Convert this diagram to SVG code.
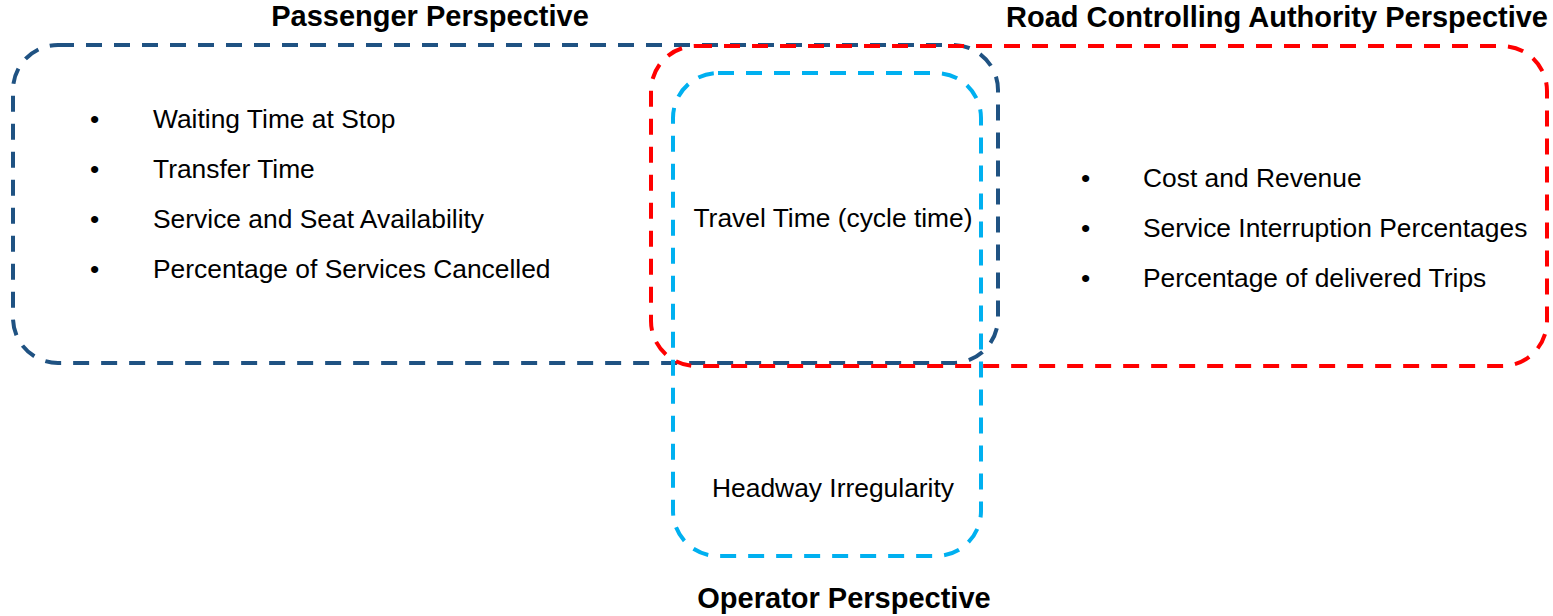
<svg xmlns="http://www.w3.org/2000/svg" width="1553" height="616" viewBox="0 0 1553 616">
<style>
.box{fill:none;stroke-width:4;stroke-dasharray:16 12;}
.t{font-family:"Liberation Sans",Arial,sans-serif;font-size:26.4px;fill:#000;}
.h{font-family:"Liberation Sans",Arial,sans-serif;font-size:29px;font-weight:bold;fill:#000;}
</style>
<rect width="1553" height="616" fill="#fff"/>
<g id="passenger">
<rect class="box" x="13" y="45" width="985" height="318" rx="45" ry="45" stroke="#1F5282"/>
<text class="h" x="430" y="26" text-anchor="middle">Passenger Perspective</text>
<text class="t" x="90" y="128">•</text><text class="t" x="153" y="128">Waiting Time at Stop</text>
<text class="t" x="90" y="178">•</text><text class="t" x="153" y="178">Transfer Time</text>
<text class="t" x="90" y="228">•</text><text class="t" x="153" y="228">Service and Seat Availability</text>
<text class="t" x="90" y="278">•</text><text class="t" x="153" y="278">Percentage of Services Cancelled</text>
</g>
<g id="authority">
<rect class="box" x="651" y="46" width="896" height="320" rx="45" ry="45" stroke="#FF0000"/>
<text class="h" x="1548" y="27" text-anchor="end">Road Controlling Authority Perspective</text>
<text class="t" x="1081" y="187">•</text><text class="t" x="1143" y="187">Cost and Revenue</text>
<text class="t" x="1081" y="237">•</text><text class="t" x="1143" y="237">Service Interruption Percentages</text>
<text class="t" x="1081" y="287">•</text><text class="t" x="1143" y="287">Percentage of delivered Trips</text>
</g>
<g id="operator">
<rect class="box" x="673" y="73" width="308" height="483" rx="45" ry="45" stroke="#00B0F0"/>
<text class="t" x="833" y="227" text-anchor="middle">Travel Time (cycle time)</text>
<text class="t" x="833" y="497" text-anchor="middle">Headway Irregularity</text>
<text class="h" x="844" y="608" text-anchor="middle">Operator Perspective</text>
</g>
<g id="connectors"></g>
</svg>
